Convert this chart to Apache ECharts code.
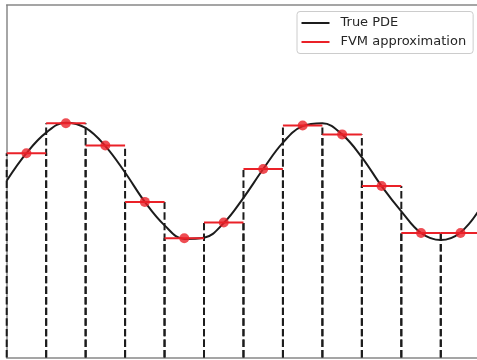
<!DOCTYPE html>
<html>
<head>
<meta charset="utf-8">
<script src="https://cdn.jsdelivr.net/npm/echarts@6/dist/echarts.min.js"></script>
<style>
  html, body { margin: 0; padding: 0; background: #ffffff; }
  #chart { width: 477px; height: 360px; }
</style>
</head>
<body>
<div id="chart"></div>
<script>
// Exact solution sampled every half cell
const curveX = [0, 0.5, 1, 1.5, 2, 2.5, 3, 3.5, 4, 4.5, 5, 5.5, 6, 6.5, 7, 7.5, 8, 8.5, 9, 9.5, 10, 10.5, 11, 11.5, 12];
const curveY = [0.01, 0.48, 0.83, 1.0, 0.91, 0.60, 0.15, -0.35, -0.75, -0.98, -0.96, -0.71, -0.28, 0.21, 0.66, 0.94, 0.99, 0.80, 0.41, -0.08, -0.51, -0.88, -1.0, -0.87, -0.46];

// Finite-volume cell values (cell i spans [i, i+1])
const cellStart = [0, 1, 2, 3, 4, 5, 6, 7, 8, 9, 10, 11];
const cellValue = [0.48, 0.99, 0.61, -0.35, -0.97, -0.70, 0.21, 0.95, 0.80, -0.08, -0.88, -0.88];

// visible window of the domain (the last cell runs slightly past the edge)
const xMin = 0, xMax = 11.918;
const yMin = -3, yMax = 3;
const RED = '#ea2128';
const INK = '#1c1c1c';
const SPINE = '#888888';

const curveData = curveX.map((x, i) => [x, curveY[i]]);
const cellData = cellStart.map((x, i) => [x, cellValue[i]]);
const centerData = cellStart.map((x, i) => [x + 0.5, cellValue[i]]);

const chart = echarts.init(document.getElementById('chart'), null, { renderer: 'canvas' });

const hiddenBits = {
  axisTick: { show: false }, axisLabel: { show: false }, splitLine: { show: false }
};

chart.setOption({
  animation: false,
  backgroundColor: '#ffffff',
  grid: { left: 6.7, top: 5.2, right: 0, bottom: 2.5 },
  xAxis: [
    Object.assign({
      type: 'value', min: xMin, max: xMax, position: 'bottom',
      axisLine: { show: true, onZero: false, lineStyle: { color: SPINE, width: 1.5 } }
    }, hiddenBits),
    Object.assign({
      type: 'value', min: xMin, max: xMax, position: 'top',
      axisLine: { show: true, onZero: false, lineStyle: { color: SPINE, width: 1.5 } }
    }, hiddenBits)
  ],
  yAxis: Object.assign({
    type: 'value', min: yMin, max: yMax,
    axisLine: { show: true, onZero: false, lineStyle: { color: SPINE, width: 1.5 } }
  }, hiddenBits),
  legend: {
    orient: 'vertical',
    left: 297, top: 11.5,
    padding: [4, 7, 4, 4.5],
    itemGap: 4,
    itemWidth: 28, itemHeight: 2,
    borderColor: '#cccccc', borderWidth: 1, borderRadius: 3,
    backgroundColor: 'rgba(255,255,255,0.8)',
    textStyle: { fontFamily: 'DejaVu Sans', fontSize: 13, color: '#262626', padding: [0, 0, 0, 6], lineHeight: 15 },
    data: [
      { name: 'True PDE', icon: 'rect', itemStyle: { color: INK } },
      { name: 'FVM approximation', icon: 'rect', itemStyle: { color: RED } }
    ]
  },
  series: [
    {
      // dashed cell walls, drawn from the axis floor up to each cell value
      name: 'walls',
      type: 'custom',
      z: 1,
      silent: true,
      data: cellData,
      renderItem: function (params, api) {
        const x0 = api.value(0), v = api.value(1);
        const children = [x0, x0 + 1].map(function (xe) {
          const a = api.coord([xe, yMin]);
          const b = api.coord([xe, v]);
          return {
            type: 'line',
            shape: { x1: a[0], y1: a[1], x2: b[0], y2: b[1] },
            style: { stroke: INK, lineWidth: 2, lineDash: [7.4, 3.2] }
          };
        });
        return { type: 'group', children: children };
      }
    },
    {
      name: 'True PDE',
      type: 'line',
      z: 2,
      data: curveData,
      smooth: 0.4,
      showSymbol: false,
      color: INK,
      lineStyle: { color: INK, width: 2 }
    },
    {
      // flat cell-average segments
      name: 'FVM approximation',
      type: 'custom',
      z: 3,
      data: cellData,
      itemStyle: { color: RED },
      renderItem: function (params, api) {
        const x0 = api.value(0), v = api.value(1);
        const a = api.coord([x0, v]);
        const b = api.coord([x0 + 1, v]);
        return {
          type: 'line',
          shape: { x1: a[0], y1: a[1], x2: b[0], y2: b[1] },
          style: { stroke: RED, lineWidth: 2 }
        };
      }
    },
    {
      name: 'cell centres',
      type: 'scatter',
      z: 4,
      data: centerData,
      symbol: 'circle',
      symbolSize: 10,
      itemStyle: { color: RED }
    }
  ]
});
</script>
</body>
</html>
